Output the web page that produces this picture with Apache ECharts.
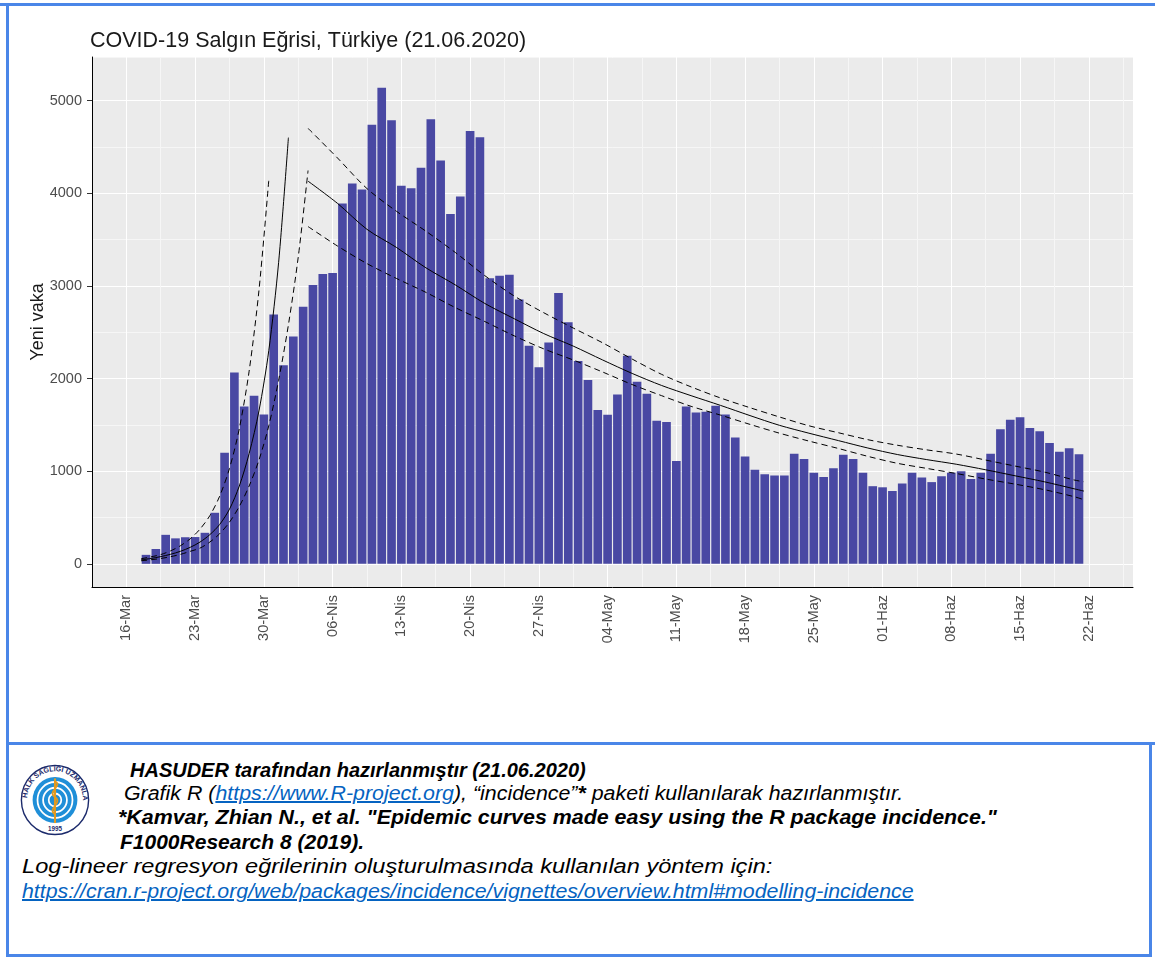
<!DOCTYPE html>
<html>
<head>
<meta charset="utf-8">
<title>COVID-19 Salgın Eğrisi, Türkiye</title>
<script src="https://cdn.jsdelivr.net/npm/echarts@6/dist/echarts.min.js"></script>
<style>
  body { margin: 0; background: #fff; }
  #page { position: relative; width: 1155px; height: 959px; overflow: hidden; font-family: "Liberation Sans", Arial, sans-serif; }
  #main { position: absolute; left: 0; top: 0; width: 1155px; height: 740px; }
  .bl { position: absolute; background: #4a86e8; }
  .ft { position: absolute; font-style: italic; font-size: 20px; line-height: 24px; white-space: nowrap; color: #000; transform-origin: 0 50%; }
  .ft a { color: #0563c1; text-decoration: underline; }
  #logo { position: absolute; left: 20px; top: 764px; width: 70px; height: 72px; }
</style>
</head>
<body>
<div id="page">
  <div id="main"></div>

  <!-- mavi cerceve -->
  <div class="bl" style="left:0;top:3px;width:1155px;height:3px"></div>
  <div class="bl" style="left:6px;top:3px;width:3px;height:954px"></div>
  <div class="bl" style="left:6px;top:742px;width:1149px;height:3px"></div>
  <div class="bl" style="left:1149px;top:742px;width:3px;height:215px"></div>
  <div class="bl" style="left:6px;top:954px;width:1146px;height:3px"></div>

  <svg id="logo" viewBox="0 0 100 100" preserveAspectRatio="none">
    <defs>
      <path id="ring" d="M 50 50 m -40 0 a 40 40 0 1 1 80 0"/>
    </defs>
    <circle cx="50" cy="50" r="48" fill="#fff" stroke="#1b2a6b" stroke-width="2"/>
    <text font-family="Liberation Sans, Arial" font-size="10" font-weight="bold" fill="#1b2a6b">
      <textPath href="#ring" startOffset="2%">HALK SAĞLIĞI UZMANLARI DERNEĞİ</textPath>
    </text>
    <circle cx="50" cy="50" r="32" fill="#1f8fd8"/>
    <circle cx="50" cy="50" r="25" fill="none" stroke="#fff" stroke-width="2.5"/>
    <circle cx="50" cy="50" r="17" fill="none" stroke="#fff" stroke-width="2.5"/>
    <circle cx="50" cy="50" r="9" fill="none" stroke="#fff" stroke-width="2.5"/>
    <line x1="50" y1="20" x2="50" y2="82" stroke="#e39a1f" stroke-width="3"/>
    <path d="M 50 24 C 62 30, 38 38, 50 46 C 62 54, 38 62, 50 70" fill="none" stroke="#e39a1f" stroke-width="2.5"/>
    <text x="50" y="93" text-anchor="middle" font-family="Liberation Sans, Arial" font-size="9" font-weight="bold" fill="#1b2a6b">1995</text>
  </svg>

  <div class="ft" style="left:130px;top:758px"><b>HASUDER tarafından hazırlanmıştır (21.06.2020)</b></div>
  <div class="ft" style="left:124px;top:781px;transform:scaleX(1.068)">Grafik R (<a href="https://www.R-project.org">https://www.R-project.org</a>), “incidence”<b>*</b> paketi kullanılarak hazırlanmıştır.</div>
  <div class="ft" style="left:118px;top:805px;transform:scaleX(1.07)"><b>*Kamvar, Zhian N., et al. "Epidemic curves made easy using the R package incidence."</b></div>
  <div class="ft" style="left:120px;top:830px;transform:scaleX(1.05)"><b>F1000Research 8 (2019).</b></div>
  <div class="ft" style="left:22px;top:854px;transform:scaleX(1.18)">Log-lineer regresyon eğrilerinin oluşturulmasında kullanılan yöntem için:</div>
  <div class="ft" style="left:22px;top:879px;transform:scaleX(1.067)"><a href="https://cran.r-project.org/web/packages/incidence/vignettes/overview.html#modelling-incidence">https://cran.r-project.org/web/packages/incidence/vignettes/overview.html#modelling-incidence</a></div>
</div>

<script type="text/javascript">
// gunluk yeni vaka, 18-Mar ... 21-Haz
var caseStart = '2020-03-18';
var cases = [
  97, 160, 313, 275, 287, 289, 335, 551, 1199, 2066, 1698, 1813, 1612, 2692,          // Mart
  2144, 2453, 2774, 3008, 3127, 3139, 3890, 4106, 4039, 4739, 5138, 4788, 4080, 4054,
  4274, 4799, 4352, 3775, 3965, 4672, 4605, 3083, 3109, 3120, 2852, 2353, 2122, 2390,
  2923, 2606,                                                                        // Nisan
  2189, 1984, 1660, 1608, 1828, 2245, 1966, 1835, 1545, 1530, 1109, 1698, 1634, 1642,
  1705, 1612, 1363, 1158, 1016, 968, 953, 953, 1188, 1132, 983, 938, 1031, 1176,
  1132, 983, 838,                                                                    // Mayis
  826, 786, 867, 983, 931, 882, 946, 983, 998, 916, 983, 1188, 1452, 1556,
  1582, 1467, 1430, 1303, 1210, 1247, 1184                                           // Haziran
];

// eksen: 13-Mar ... 26-Haz, etiketler 16-Mar'dan itibaren haftalik
var axisStart = '2020-03-13';
var axisEnd   = '2020-06-26';
var tickStart = '2020-03-16';
var monthNames = ['Oca', 'Şub', 'Mar', 'Nis', 'May', 'Haz'];

// log-lineer egriler, x = 16-Mar'dan itibaren gun
var growthDays  = [1.5, 2.5, 3.5, 4.5, 5.5, 6.5, 7.5, 8.5, 9.5, 10.5, 11.5, 12.5, 13.5, 14.5, 15.5, 16.5, 17.5, 18.5];
var growthFit   = [43, 58, 78, 103, 135, 178, 235, 315, 425, 590, 840, 1190, 1650, 2300, 3250, 4600];
var growthUpper = [55, 75, 100, 140, 195, 270, 375, 520, 730, 1030, 1460, 2080, 2950, 4140];
var growthLower = [33, 44, 58, 77, 102, 135, 170, 235, 325, 450, 620, 840, 1120, 1490, 1980, 2580, 3310, 4245];

var declineDays  = [18.5, 21.5, 24.5, 27.5, 30.5, 33.5, 36.5, 39.5, 42.5, 45.5, 48.5, 51.5, 54.5, 57.5,
                    60.5, 63.5, 66.5, 69.5, 72.5, 75.5, 78.5, 81.5, 84.5, 87.5, 90.5, 93.5, 96.5, 97.5];
var declineFit   = [4130, 3890, 3610, 3415, 3195, 3010, 2810, 2645, 2485, 2350, 2200, 2055, 1925, 1815,
                    1710, 1600, 1495, 1410, 1330, 1250, 1180, 1125, 1075, 1015, 950, 885, 810, 785];
var declineUpper = [4700, 4380, 4050, 3805, 3590, 3360, 3110, 2890, 2710, 2545, 2385, 2210, 2045, 1910,
                    1790, 1685, 1585, 1490, 1415, 1340, 1280, 1230, 1185, 1120, 1055, 990, 905, 886];
var declineLower = [3640, 3430, 3240, 3080, 2930, 2765, 2615, 2460, 2320, 2200, 2070, 1935, 1815, 1700,
                    1605, 1505, 1410, 1325, 1245, 1160, 1085, 1030, 975, 915, 860, 800, 725, 692];

var DAY = 86400000;
function utc(s) { var p = s.split('-'); return Date.UTC(+p[0], +p[1] - 1, +p[2]); }
function label(t) {
    var d = new Date(t), dd = d.getUTCDate();
    return (dd < 10 ? '0' : '') + dd + '-' + monthNames[d.getUTCMonth()];
}

var categories = [], barData = [];
for (var t = utc(axisStart); t <= utc(axisEnd); t += DAY) {
    categories.push(label(t));
    var k = Math.round((t - utc(caseStart)) / DAY);
    barData.push(k >= 0 && k < cases.length ? cases[k] : null);
}
var firstTick = Math.round((utc(tickStart) - utc(axisStart)) / DAY);   // 3
function weekly(idx) { return idx >= firstTick && (idx - firstTick) % 7 === 0; }

function pairs(days, vals) {
    return vals.map(function (v, i) { return [days[i], v]; });
}

var xMin = -firstTick - 0.5;
var xMax = categories.length - firstTick - 0.5;
var FONT = 'Liberation Sans';
var minor = '#f6f6f6';
var clear = 'rgba(0,0,0,0)';

var myChart = echarts.init(document.getElementById('main'));

function fitLine(data, dashed) {
    return {
        type: 'line',
        xAxisIndex: 1,
        yAxisIndex: 0,
        data: data,
        symbol: 'none',
        smooth: 0.3,
        silent: true,
        z: 5,
        lineStyle: { color: '#000', width: 1, type: dashed ? [6, 4] : 'solid' }
    };
}

var option = {
    animation: false,
    textStyle: { fontFamily: FONT },
    title: {
        text: 'COVID-19 Salgın Eğrisi, Türkiye (21.06.2020)',
        left: 90,
        top: 30,
        padding: 0,
        textStyle: { fontFamily: FONT, fontSize: 21.5, fontWeight: 'normal', color: '#1a1a1a' }
    },
    grid: {
        left: 92, top: 57, width: 1041, height: 530,
        show: true, backgroundColor: '#ebebeb', borderWidth: 0,
        containLabel: false, outerBoundsMode: 'none'
    },
    xAxis: [
        {
            type: 'category',
            data: categories,
            boundaryGap: true,
            axisLine: { onZero: false, lineStyle: { color: '#000', width: 1 } },
            axisTick: { alignWithLabel: true, interval: weekly, length: 4, lineStyle: { color: '#333' } },
            axisLabel: { interval: weekly, rotate: 90, margin: 8, fontSize: 14.5, color: '#4d4d4d', fontFamily: FONT },
            splitLine: { show: false }
        },
        {   // sadece dikey izgara cizgileri + egriler icin
            type: 'value',
            min: xMin, max: xMax, interval: 3.5,
            position: 'bottom',
            axisLine: { show: false }, axisTick: { show: false }, axisLabel: { show: false },
            splitLine: { show: true, lineStyle: { color: [minor, '#ffffff'], width: 1 } }
        }
    ],
    yAxis: [
        {
            type: 'value',
            min: -250, max: 5470,
            splitNumber: 5,
            name: 'Yeni vaka',
            nameLocation: 'middle',
            nameGap: 45,
            nameMoveOverlap: false,
            nameTextStyle: { fontSize: 18, color: '#1a1a1a', fontFamily: FONT },
            axisLine: { show: true, onZero: false, lineStyle: { color: '#000', width: 1 } },
            axisTick: { show: true, length: 5, lineStyle: { color: '#333' } },
            axisLabel: {
                margin: 10, fontSize: 14.5, color: '#4d4d4d', fontFamily: FONT,
                showMinLabel: false, showMaxLabel: false,
                formatter: function (v) { return String(v); }
            },
            splitLine: { show: true, lineStyle: { color: '#ffffff', width: 1.1 } }
        },
        {   // ara izgara cizgileri (500, 1500, ...)
            type: 'value',
            min: -250, max: 5470, interval: 250,
            position: 'left',
            axisLine: { show: false }, axisTick: { show: false }, axisLabel: { show: false },
            splitLine: { show: true, lineStyle: { color: [clear, clear, clear, minor], width: 1 } }
        }
    ],
    series: [
        {
            name: 'Yeni vaka',
            type: 'bar',
            xAxisIndex: 0,
            yAxisIndex: 0,
            data: barData,
            barCategoryGap: '12%',
            itemStyle: { color: '#4948a3' }
        },
        fitLine(pairs(growthDays, growthFit), false),
        fitLine(pairs(growthDays, growthUpper), true),
        fitLine(pairs(growthDays, growthLower), true),
        fitLine(pairs(declineDays, declineFit), false),
        fitLine(pairs(declineDays, declineUpper), true),
        fitLine(pairs(declineDays, declineLower), true)
    ]
};

myChart.setOption(option);
window.onresize = myChart.resize;
</script>
</body>
</html>
